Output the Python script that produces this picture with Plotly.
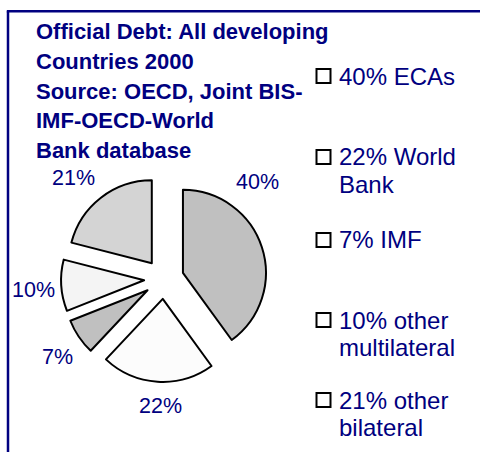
import math
import plotly.graph_objects as go

W, H = 480, 452
NAVY = "#000080"
FONT = "Arial, 'Liberation Sans', sans-serif"

categories = ["ECAs", "World Bank", "IMF", "other multilateral", "other bilateral"]
values = [40, 22, 7, 10, 21]
colors = ["#c0c0c0", "#fcfcfc", "#c0c0c0", "#f4f4f4", "#d4d4d4"]
legend_lines = [["40% ECAs"], ["22% World", "Bank"], ["7% IMF"],
                ["10% other", "multilateral"], ["21% other", "bilateral"]]
title_lines = ["Official Debt: All developing", "Countries 2000", "Source: OECD, Joint BIS-",
               "IMF-OECD-World", "Bank database"]


def px(x):
    return x / W


def py(y):
    return 1 - y / H


# pie placement (pixels)
cx, cy, radius, pull = 164, 279, 83, 0.24
half = radius * (1 + pull)
fig = go.Figure(go.Pie(
    labels=categories, values=values, sort=False, direction="clockwise", rotation=0,
    pull=[pull] * len(values),
    marker=dict(colors=colors, line=dict(color="black", width=2)),
    textinfo="none",
    domain=dict(x=[px(cx - half), px(cx + half)], y=[py(cy + half), py(cy - half)]),
    showlegend=False, hoverinfo="label+percent",
))

annotations = []

# percentage labels placed outside each slice along (roughly) its mid angle
label_dist = [135, 127, 132, 131, 136]
label_angle_shift = [-28, -2, -2, -1, -4]
total = sum(values)
cum = 0
for v, shift, d in zip(values, label_angle_shift, label_dist):
    mid = (cum + v / 2) / total * 360 + shift
    cum += v
    a = math.radians(mid)
    lx = cx + d * math.sin(a)
    ly = cy - d * math.cos(a)
    annotations.append(dict(text=f"{v}%", x=px(lx), y=py(ly), xref="paper", yref="paper",
                            xanchor="center", yanchor="middle", showarrow=False,
                            font=dict(size=21.5, color=NAVY, family=FONT)))

# title lines
title_base = [40, 69.5, 99.5, 129, 159]
for t, b in zip(title_lines, title_base):
    annotations.append(dict(text=f"<b>{t}</b>", x=px(34), y=py(b + 6.2), xref="paper", yref="paper",
                            xanchor="left", yanchor="bottom", showarrow=False,
                            font=dict(size=22, color=NAVY, family=FONT)))

# legend
legend_base = [85, 166, 249, 329, 409]
line_gap = 27.5
shapes = []
for lines, b in zip(legend_lines, legend_base):
    for k, t in enumerate(lines):
        annotations.append(dict(text=t, x=px(337), y=py(b + k * line_gap + 6.5), xref="paper", yref="paper",
                                xanchor="left", yanchor="bottom", showarrow=False,
                                font=dict(size=24, color=NAVY, family=FONT)))
    shapes.append(dict(type="rect", xref="paper", yref="paper",
                       x0=px(316.5), x1=px(330.5), y0=py(b - 2), y1=py(b - 16),
                       line=dict(color="black", width=2), fillcolor="white"))

# frame
shapes.append(dict(type="line", xref="paper", yref="paper", x0=px(8), x1=px(8), y0=py(H + 5), y1=py(11.3),
                   line=dict(color=NAVY, width=2.5)))
shapes.append(dict(type="line", xref="paper", yref="paper", x0=px(6.8), x1=px(W + 5), y0=py(11.3), y1=py(11.3),
                   line=dict(color=NAVY, width=2.5)))

fig.update_layout(
    width=W, height=H, margin=dict(l=0, r=0, t=0, b=0, autoexpand=False),
    paper_bgcolor="white", plot_bgcolor="white",
    annotations=annotations, shapes=shapes,
    font=dict(family=FONT, color=NAVY),
)
fig.write_html("out.html")
